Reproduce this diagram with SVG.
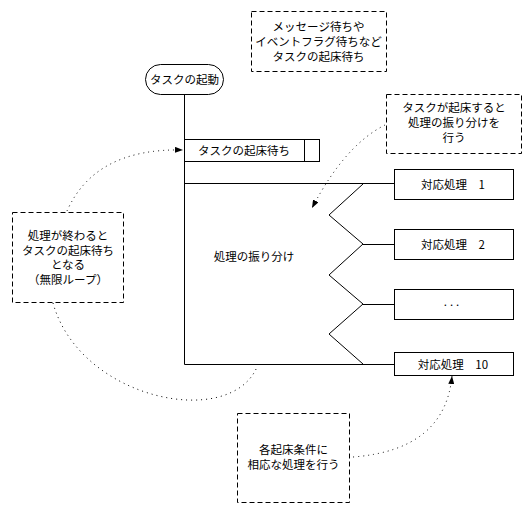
<svg xmlns="http://www.w3.org/2000/svg" width="527" height="513" viewBox="0 0 527 513">
<style>
text{font-family:"Noto Sans CJK JP","Liberation Sans",sans-serif;font-size:11.5px;fill:#000;text-anchor:middle}
.box{fill:#fff;stroke:#000;stroke-width:1}
.note{fill:#fff;stroke:#000;stroke-width:1;stroke-dasharray:5,3}
.line{fill:none;stroke:#000;stroke-width:1}
.dot{fill:none;stroke:#000;stroke-width:1;stroke-dasharray:1,4}
</style>
<defs>
<marker id="ah" viewBox="0 0 8 6" refX="8" refY="3" markerWidth="8" markerHeight="6" markerUnits="userSpaceOnUse" orient="auto">
<path d="M0,0 L8,3 L0,6 Z" fill="#000"/>
</marker>
</defs>
<rect width="527" height="513" fill="#fff"/>
<g id="connectors">
<line class="line" x1="184.5" y1="95" x2="184.5" y2="364.5"/>
<line class="line" x1="184.5" y1="183.5" x2="394" y2="183.5"/>
<line class="line" x1="184.5" y1="364.5" x2="394" y2="364.5"/>
<polyline class="line" points="363,184 329,215 363,244 329,275 363,304 329,334 363,364"/>
<line class="line" x1="363" y1="244.5" x2="394" y2="244.5"/>
<line class="line" x1="363" y1="304.5" x2="394" y2="304.5"/>
<path class="dot" d="M67,211 Q95,148 183,150" marker-end="url(#ah)"/>
<path class="dot" d="M53,303 C80,400 230,430 257,367"/>
<path class="dot" d="M385,125 Q345,145 312,208" marker-end="url(#ah)"/>
<path class="dot" d="M353,457 Q445,450 452,376" marker-end="url(#ah)"/>
</g>
<g id="note-top">
<rect class="note" x="251.5" y="11.5" width="135" height="60"/>
<text x="318.5" y="31">メッセージ待ちや</text>
<text x="318.5" y="46">イベントフラグ待ちなど</text>
<text x="318.5" y="61">タスクの起床待ち</text>
</g>
<g id="start">
<rect class="box" x="145.5" y="64.5" width="78" height="30" rx="15" ry="15"/>
<text x="184.5" y="83.5">タスクの起動</text>
</g>
<g id="wait">
<rect class="box" x="184.5" y="139.5" width="135" height="22"/>
<line class="line" x1="304.5" y1="139.5" x2="304.5" y2="161.5"/>
<text x="244" y="154.5">タスクの起床待ち</text>
</g>
<g id="note-dispatch">
<rect class="note" x="386.5" y="94.5" width="135" height="59"/>
<text x="454" y="112">タスクが起床すると</text>
<text x="454" y="127">処理の振り分けを</text>
<text x="454" y="142">行う</text>
</g>
<g id="dispatch">
<text x="254" y="261">処理の振り分け</text>
</g>
<g id="note-loop">
<rect class="note" x="12.5" y="212.5" width="111" height="90"/>
<text x="68" y="240">処理が終わると</text>
<text x="68" y="254.5">タスクの起床待ち</text>
<text x="68" y="269">となる</text>
<text x="68" y="283.5">（無限ループ）</text>
</g>
<g id="proc1">
<rect class="box" x="394.5" y="169.5" width="119" height="30"/>
<text x="453" y="188.5">対応処理　1</text>
</g>
<g id="proc2">
<rect class="box" x="394.5" y="229.5" width="119" height="30"/>
<text x="453" y="248.5">対応処理　2</text>
</g>
<g id="proc-etc">
<rect class="box" x="394.5" y="289.5" width="119" height="30"/>
<text x="453" y="306" style="letter-spacing:3px">...</text>
</g>
<g id="proc10">
<rect class="box" x="394.5" y="352.5" width="119" height="23"/>
<text x="453" y="368.5">対応処理　10</text>
</g>
<g id="note-each">
<rect class="note" x="237.5" y="413.5" width="112" height="89"/>
<text x="293.5" y="454">各起床条件に</text>
<text x="293.5" y="469">相応な処理を行う</text>
</g>
</svg>
